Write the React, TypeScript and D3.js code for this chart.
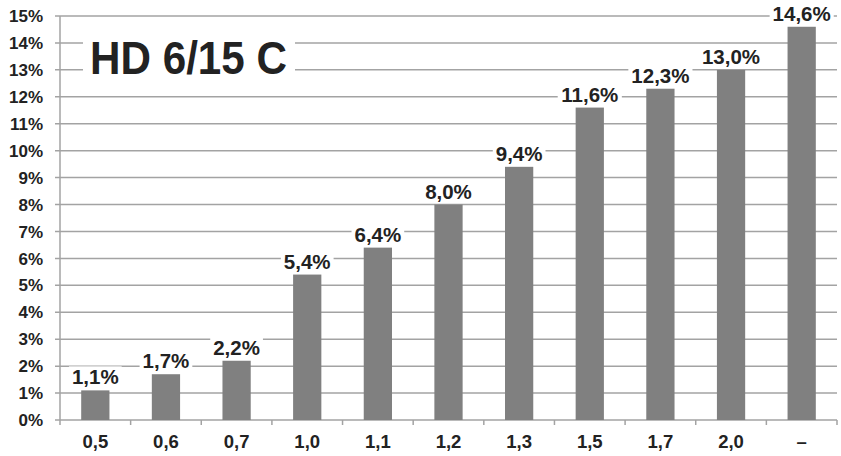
import React from "react";
import * as d3 from "d3";

const categories = ["0,5", "0,6", "0,7", "1,0", "1,1", "1,2", "1,3", "1,5", "1,7", "2,0", "–"];
const values = [1.1, 1.7, 2.2, 5.4, 6.4, 8.0, 9.4, 11.6, 12.3, 13.0, 14.6];
const valueLabels = ["1,1%", "1,7%", "2,2%", "5,4%", "6,4%", "8,0%", "9,4%", "11,6%", "12,3%", "13,0%", "14,6%"];
const yTicks = d3.range(0, 16);
const title = "HD 6/15 C";

const W = 841;
const H = 456;
const left = 60;
const right = 837;
const top = 16;
const bottom = 420;
const FONT = "'Liberation Sans', Arial, sans-serif";
const GRID = "#a3a3a3";
const TEXT = "#222";

function textWidth(s: string, size: number) {
  const w: Record<string, number> = { "%": 0.889, ",": 0.278, "–": 0.556 };
  let t = 0;
  for (const c of s) t += w[c] ?? 0.556;
  return t * size;
}

export default function App() {
  const x = d3.scaleBand<string>().domain(categories).range([left, right]).paddingInner(0.6).paddingOuter(0.3);
  const xb = d3.scaleBand<string>().domain(categories).range([left, right]);
  const y = d3.scaleLinear().domain([0, 15]).range([bottom, top]);
  const labelSize = 20.5;

  return (
    <svg width={W} height={H} style={{ position: "absolute", left: 0, top: 0, background: "#fff" }}>
      {yTicks.map((t) => (
        <g key={t}>
          <line x1={left - 5} x2={right} y1={y(t)} y2={y(t)} stroke={GRID} strokeWidth={1.5} />
          <text
            x={43}
            y={y(t)}
            dy="0.36em"
            textAnchor="end"
            fontFamily={FONT}
            fontWeight="bold"
            fontSize={17}
            fill={TEXT}
          >
            {t}%
          </text>
        </g>
      ))}
      <line x1={left} x2={left} y1={top} y2={bottom} stroke={GRID} strokeWidth={1.5} />
      {categories.map((c, i) => (
        <line key={"t" + i} x1={xb(c)!} x2={xb(c)!} y1={bottom} y2={bottom + 5} stroke={GRID} strokeWidth={1.5} />
      ))}
      <line x1={right} x2={right} y1={bottom} y2={bottom + 5} stroke={GRID} strokeWidth={1.5} />
      {/* title */}
      <rect x={83} y={30} width={212} height={54} fill="#fff" />
      <text x={90} y={74} fontFamily={FONT} fontWeight="bold" fontSize={46} fill={TEXT} textLength={197} lengthAdjust="spacingAndGlyphs">
        {title}
      </text>
      {categories.map((c, i) => {
        const cx = x(c)! + x.bandwidth() / 2;
        const lw = textWidth(valueLabels[i], labelSize);
        const by = y(values[i]);
        return (
          <g key={c}>
            <rect x={x(c)!} y={by} width={x.bandwidth()} height={bottom - by} fill="#808080" />
            <rect x={cx - lw / 2 - 3} y={by - 24} width={lw + 6} height={20} fill="#fff" />
            <text x={cx} y={by - 6} textAnchor="middle" fontFamily={FONT} fontWeight="bold" fontSize={labelSize} fill={TEXT}>
              {valueLabels[i]}
            </text>
            <text x={cx} y={448} textAnchor="middle" fontFamily={FONT} fontWeight="bold" fontSize={18.5} fill={TEXT}>
              {c}
            </text>
          </g>
        );
      })}
    </svg>
  );
}
